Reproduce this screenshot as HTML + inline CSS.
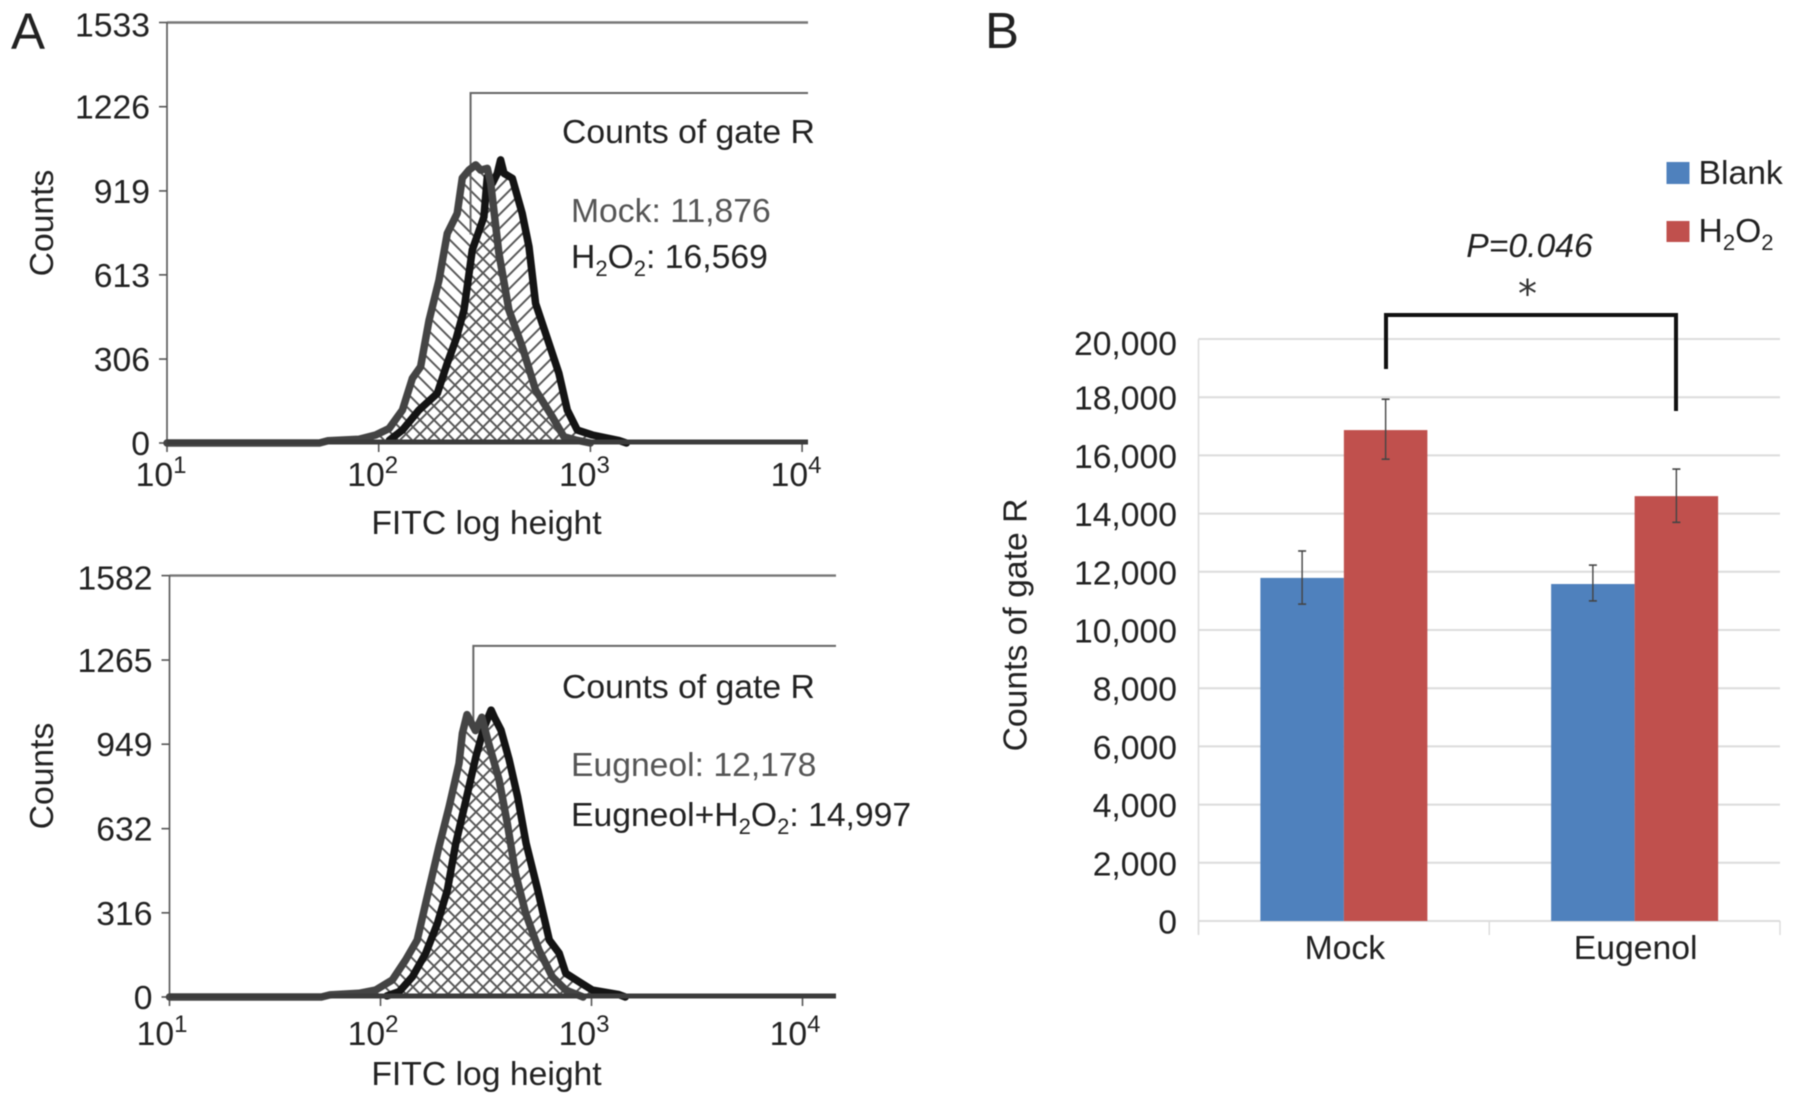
<!DOCTYPE html>
<html lang="en">
<head>
<meta charset="utf-8">
<title>FITC histograms and counts of gate R</title>
<style>
html,body{margin:0;padding:0;background:#fff;width:1795px;height:1104px;overflow:hidden}
svg{display:block;filter:blur(.55px)}
text{font-family:"Liberation Sans",Arial,sans-serif;font-size:33.7px;fill:#222}
</style>
</head>
<body>
<svg id="figure" width="1795" height="1104" viewBox="0 0 1795 1104" xmlns="http://www.w3.org/2000/svg">
  <defs>
    <pattern id="hatch-back" patternUnits="userSpaceOnUse" width="14" height="14">
      <path d="M-3,-3L17,17M-3,11L3,17M11,-3L17,3" stroke="#5a5a5a" stroke-width="2" fill="none"/>
    </pattern>
    <pattern id="hatch-fwd" patternUnits="userSpaceOnUse" width="14" height="14">
      <path d="M-3,17L17,-3M-3,3L3,-3M11,17L17,11" stroke="#5a5a5a" stroke-width="2" fill="none"/>
    </pattern>
  </defs>
  <rect width="1795" height="1104" fill="#fff"/>

  <text x="11" y="49" style="font-size:51px">A</text>
  <text x="985" y="48" style="font-size:51px">B</text>

  <g id="hist-top"></g>
  <g id="hist-bottom"></g>
  <g id="bars"></g>

  <text transform="translate(53,223) rotate(-90)" text-anchor="middle">Counts</text>
  <text x="486.5" y="534" text-anchor="middle">FITC log height</text>
  <text x="562" y="143">Counts of gate R</text>
  <text x="571" y="222" style="fill:#555">Mock: 11,876</text>
  <text x="571" y="268">H<tspan dy="8" style="font-size:22px">2</tspan><tspan dy="-8">O</tspan><tspan dy="8" style="font-size:22px">2</tspan><tspan dy="-8">: 16,569</tspan></text>

  <text transform="translate(53,776) rotate(-90)" text-anchor="middle">Counts</text>
  <text x="486.5" y="1085" text-anchor="middle">FITC log height</text>
  <text x="562" y="698">Counts of gate R</text>
  <text x="571" y="776" style="fill:#555">Eugneol: 12,178</text>
  <text x="571" y="826">Eugneol+H<tspan dy="8" style="font-size:22px">2</tspan><tspan dy="-8">O</tspan><tspan dy="8" style="font-size:22px">2</tspan><tspan dy="-8">: 14,997</tspan></text>

  <text transform="translate(1026.5,625) rotate(-90)" text-anchor="middle">Counts of gate R</text>
  <rect x="1666.5" y="162" width="23" height="22" fill="#4f81bd"/>
  <text x="1698.5" y="184">Blank</text>
  <rect x="1666.5" y="221" width="23" height="21" fill="#c0504d"/>
  <text x="1698.5" y="242">H<tspan dy="8" style="font-size:22px">2</tspan><tspan dy="-8">O</tspan><tspan dy="8" style="font-size:22px">2</tspan></text>
  <text x="1529.5" y="257" text-anchor="middle" style="font-style:italic">P=0.046</text>
  <text x="1527.5" y="307" text-anchor="middle" style="font-family:'DejaVu Sans',sans-serif;font-size:38px;fill:#333">*</text>
</svg>

<script>
// ---- Panel A histogram data (x = log10 FITC height, y = counts) ----
const decades = [1, 2, 3, 4];
const topCountTicks = [0, 306, 613, 919, 1226, 1533];
const bottomCountTicks = [0, 316, 632, 949, 1265, 1582];

const mockLogFitc = [1.0, 1.72, 1.76, 1.907, 1.986, 2.049, 2.112, 2.159, 2.198, 2.238, 2.285, 2.324, 2.371, 2.395, 2.426, 2.458, 2.482, 2.513, 2.529, 2.568, 2.615, 2.678, 2.741, 2.82, 2.875, 2.93, 3.0];
const mockCounts = [0, 0, 8, 14, 29, 53, 120, 236, 278, 448, 594, 764, 837, 966, 995, 1014, 995, 1001, 947, 692, 485, 351, 193, 96, 23, 11, 0];
const h2o2LogFitc = [2.05, 2.112, 2.19, 2.277, 2.324, 2.364, 2.403, 2.442, 2.497, 2.513, 2.537, 2.56, 2.576, 2.592, 2.631, 2.678, 2.71, 2.741, 2.804, 2.851, 2.891, 2.938, 3.009, 3.135, 3.17];
const h2o2Counts = [10, 47, 120, 181, 291, 376, 485, 704, 824, 970, 947, 983, 1032, 983, 965, 837, 715, 509, 364, 254, 120, 47, 29, 9, 0];

const eugLogFitc = [1.0, 1.72, 1.76, 1.898, 1.977, 2.056, 2.119, 2.174, 2.214, 2.277, 2.325, 2.372, 2.388, 2.41, 2.45, 2.48, 2.51, 2.562, 2.601, 2.64, 2.688, 2.751, 2.814, 2.878, 2.96];
const eugCounts = [0, 0, 8, 14, 26, 64, 139, 214, 352, 563, 714, 877, 990, 1060, 1000, 1050, 960, 815, 652, 464, 314, 176, 76, 26, 0];
const eugH2o2LogFitc = [2.03, 2.088, 2.151, 2.214, 2.27, 2.317, 2.357, 2.405, 2.452, 2.49, 2.505, 2.524, 2.54, 2.571, 2.61, 2.65, 2.69, 2.745, 2.8, 2.847, 2.878, 2.941, 3.004, 3.13, 3.16];
const eugH2o2Counts = [4, 20, 76, 164, 277, 402, 577, 740, 902, 1010, 1040, 1077, 1050, 1002, 890, 752, 577, 402, 214, 164, 89, 57, 26, 9, 0];

// ---- Panel B bar data ----
const categories = ['Mock', 'Eugenol'];
const blankValues = [11790, 11580];
const h2o2Values = [16870, 14600];
const blankErrHigh = [12715, 12230];
const blankErrLow = [10890, 11000];
const h2o2ErrHigh = [17930, 15530];
const h2o2ErrLow = [15870, 13700];
const barTicks = [0, 2000, 4000, 6000, 8000, 10000, 12000, 14000, 16000, 18000, 20000];

const NS = 'http://www.w3.org/2000/svg';
function make(tag, parent, attrs, name, text) {
  const el = document.createElementNS(NS, tag);
  for (const k in attrs) el.setAttribute(k, attrs[k]);
  
  
  if (text !== undefined) el.textContent = text;
  parent.appendChild(el);
  return el;
}

function drawHistogram(root, o) {
  const xs = d => o.x0 + (d - 1) * o.dec;
  const ys = c => o.y0 - c * (o.y0 - o.yTop) / o.max;
  const linePath = (lx, cy) => lx.map((d, i) => (i ? 'L' : 'M') + xs(d).toFixed(1) + ',' + ys(cy[i]).toFixed(1)).join('');
  const area = (lx, cy) => linePath(lx, cy) + 'L' + xs(lx[lx.length - 1]).toFixed(1) + ',' + o.y0 + 'L' + xs(lx[0]).toFixed(1) + ',' + o.y0 + 'Z';

  make('path', root, {d: area(o.grayX, o.grayY), fill: 'url(#hatch-back)'}, 'control-hatch-fill');
  make('path', root, {d: area(o.blackX, o.blackY), fill: 'url(#hatch-fwd)'}, 'treated-hatch-fill');

  make('line', root, {x1: o.x0, x2: o.xEnd, y1: o.yTop, y2: o.yTop, stroke: '#777', 'stroke-width': 2.4}, 'top-frame-line');
  make('line', root, {x1: o.x0, x2: o.x0, y1: o.yTop, y2: o.y0, stroke: '#555', 'stroke-width': 1.6}, 'y-axis-line');

  const gx = xs(o.gateLog), gy = ys(o.gateCount);
  make('path', root, {d: 'M' + gx + ',' + ys(o.gateBottom) + 'L' + gx + ',' + gy + 'L' + o.xEnd + ',' + gy, fill: 'none', stroke: '#666', 'stroke-width': 2}, 'gate-r-marker');

  o.countTicks.forEach(c => {
    make('line', root, {x1: o.x0 - 8, x2: o.x0, y1: ys(c), y2: ys(c), stroke: '#555', 'stroke-width': 1.6}, 'y-tick');
    make('text', root, {x: o.x0 - 17, y: ys(c) + (c === o.max ? 14 : 12), 'text-anchor': 'end'}, 'y-tick-label', String(c));
  });
  decades.forEach(d => {
    make('line', root, {x1: xs(d), x2: xs(d), y1: o.y0, y2: o.y0 + 9, stroke: '#555', 'stroke-width': 1.6}, 'x-tick');
    const t = make('text', root, {x: xs(d) - o.labelShift, y: o.labelY, 'text-anchor': 'middle'}, 'x-tick-label', '10');
    const s = document.createElementNS(NS, 'tspan');
    s.setAttribute('dy', '-13');
    s.setAttribute('style', 'font-size:24px');
    s.textContent = String(d);
    t.appendChild(s);
  });

  make('path', root, {d: linePath(o.blackX, o.blackY), fill: 'none', stroke: '#141414', 'stroke-width': 7.5, 'stroke-linejoin': 'round', 'stroke-linecap': 'round'}, 'treated-curve');
  make('path', root, {d: linePath(o.grayX, o.grayY), fill: 'none', stroke: '#444', 'stroke-width': 7.5, 'stroke-linejoin': 'round', 'stroke-linecap': 'round'}, 'control-curve');
  make('line', root, {x1: o.x0, x2: o.xEnd, y1: o.y0 - 1, y2: o.y0 - 1, stroke: '#3c3c3c', 'stroke-width': 5}, 'x-axis-baseline');
}

drawHistogram(document.getElementById('hist-top'), {
  x0: 167, dec: 211.7, xEnd: 808, y0: 443, yTop: 22.5, max: 1533, labelShift: 6, labelY: 486,
  countTicks: topCountTicks, gateLog: 2.434, gateCount: 1276, gateBottom: 760,
  grayX: mockLogFitc, grayY: mockCounts, blackX: h2o2LogFitc, blackY: h2o2Counts
});
drawHistogram(document.getElementById('hist-bottom'), {
  x0: 169.5, dec: 211, xEnd: 836, y0: 997, yTop: 575.6, max: 1582, labelShift: 7.5, labelY: 1045,
  countTicks: bottomCountTicks, gateLog: 2.44, gateCount: 1318, gateBottom: 1000,
  grayX: eugLogFitc, grayY: eugCounts, blackX: eugH2o2LogFitc, blackY: eugH2o2Counts
});

// ---- Panel B ----
(function () {
  const root = document.getElementById('bars');
  const left = 1198.5, right = 1780, band = (right - left) / categories.length;
  const y0 = 921, yTop = 339, maxV = 20000, barW = 83.5;
  const yB = v => y0 - v * (y0 - yTop) / maxV;
  const xB = i => left + (i + 0.5) * band;

  barTicks.forEach(t => {
    make('line', root, {x1: left, x2: right, y1: yB(t), y2: yB(t), stroke: '#dcdcdc', 'stroke-width': 2}, 'gridline');
    make('text', root, {x: 1177, y: yB(t) + (t === maxV ? 16 : 12.5), 'text-anchor': 'end'}, 'y-tick-label', t.toLocaleString('en-US'));
  });
  make('line', root, {x1: left, x2: left, y1: yTop, y2: y0 + 14, stroke: '#dcdcdc', 'stroke-width': 1.5}, 'y-axis-line');
  for (let i = 0; i <= categories.length; i++) {
    make('line', root, {x1: left + i * band, x2: left + i * band, y1: y0, y2: y0 + 14, stroke: '#dcdcdc', 'stroke-width': 1.5}, 'x-tick');
  }

  const error = (cx, hi, lo, name) => {
    make('line', root, {x1: cx, x2: cx, y1: yB(hi), y2: yB(lo), stroke: '#444', 'stroke-width': 1.4}, name);
    make('line', root, {x1: cx - 4, x2: cx + 4, y1: yB(hi), y2: yB(hi), stroke: '#444', 'stroke-width': 1.6}, name + '-cap-high');
    make('line', root, {x1: cx - 4, x2: cx + 4, y1: yB(lo), y2: yB(lo), stroke: '#444', 'stroke-width': 1.6}, name + '-cap-low');
  };

  categories.forEach((c, i) => {
    const key = c.toLowerCase();
    const cx = xB(i);
    make('rect', root, {x: cx - barW, y: yB(blankValues[i]), width: barW, height: y0 - yB(blankValues[i]), fill: '#4f81bd'}, 'bar-blank-' + key);
    make('rect', root, {x: cx, y: yB(h2o2Values[i]), width: barW, height: y0 - yB(h2o2Values[i]), fill: '#c0504d'}, 'bar-h2o2-' + key);
    error(cx - barW / 2, blankErrHigh[i], blankErrLow[i], 'error-bar-blank-' + key);
    error(cx + barW / 2, h2o2ErrHigh[i], h2o2ErrLow[i], 'error-bar-h2o2-' + key);
    make('text', root, {x: cx + 1, y: 959, 'text-anchor': 'middle'}, 'category-label-' + key, c);
  });

  make('path', root, {d: 'M1386,369L1386,315L1676,315L1676,411', fill: 'none', stroke: '#111', 'stroke-width': 4}, 'significance-bracket');
})();
</script>
</body>
</html>
